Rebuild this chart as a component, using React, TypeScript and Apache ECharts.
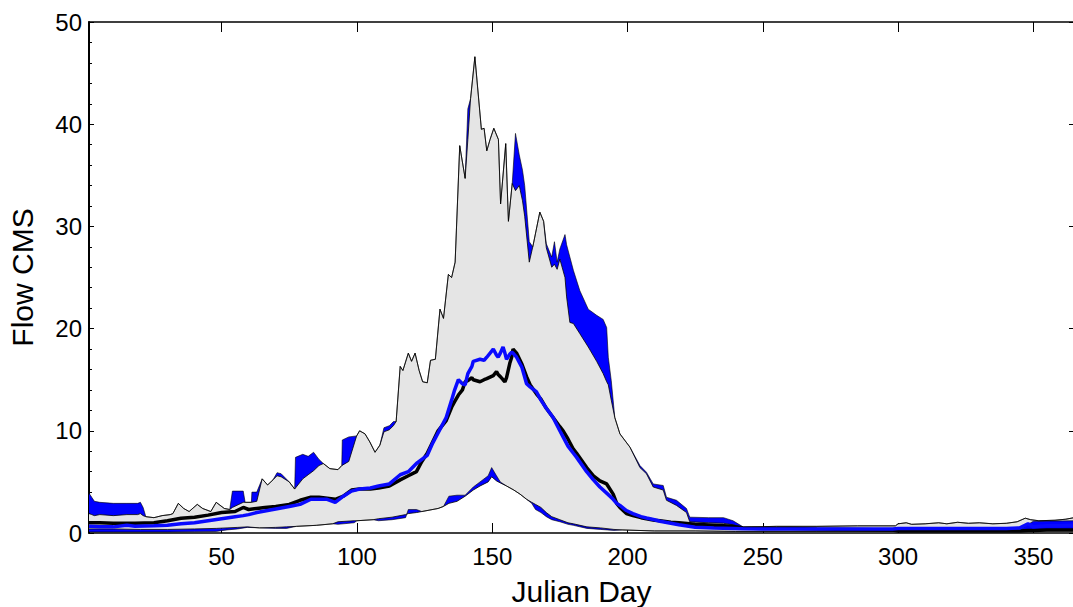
import React, { useEffect, useRef } from 'react';
import * as echarts from 'echarts';

// ---- Data ----
const xTickValues = [50, 100, 150, 200, 250, 300, 350];

// Upper envelopes (grey = series A maximum, blue = series B maximum)
const upperDays = [1, 2, 3, 5, 10, 15, 19, 20, 21, 22, 25, 28, 31, 32, 34, 36, 38, 41, 43, 46, 48, 51, 53, 54, 58, 58.7, 61, 61.2, 63, 65, 67, 69, 70.5, 72, 75, 77, 77.3, 80, 82, 84, 86, 87.6, 90, 93, 94.4, 94.6, 97, 99.9, 101, 103, 104.8, 106.7, 108.5, 110, 112, 113.5, 114.5, 116, 117, 119, 120.2, 121.5, 123, 124.3, 126, 127.2, 129, 130.7, 132, 133.8, 135, 136.3, 138, 140, 141, 142, 143.6, 146, 147, 148, 149.2, 150.6, 152.3, 153.1, 155, 156, 157.4, 158.6, 160, 161.2, 162, 163.7, 165, 167.6, 169, 170, 172, 173, 174, 175, 176.9, 177.5, 178.7, 180, 182.4, 185.5, 188.6, 191, 192.3, 192.9, 194, 195.3, 197.2, 200.9, 204.6, 207, 209.5, 213.2, 214.4, 218.1, 221.8, 223, 230, 235.5, 239, 242.7, 246, 255, 270, 285, 299, 300, 303, 305, 310, 315, 318, 322, 326, 330, 335, 340, 344, 347, 349, 352, 358, 362, 365];
const greyUpper = [1.9, 1.8, 1.7, 1.8, 1.7, 1.8, 1.8, 1.9, 1.7, 1.6, 1.5, 1.7, 1.8, 1.9, 2.9, 2.4, 2.1, 2.8, 2.4, 2.1, 3.0, 2.4, 2.3, 2.5, 3.0, 3.0, 3.0, 3.0, 3.1, 5.3, 4.7, 5.2, 5.6, 5.5, 5.0, 4.3, 4.4, 5.3, 5.7, 6.1, 6.6, 6.8, 6.3, 6.2, 6.6, 6.6, 7.0, 9.5, 10.0, 9.7, 8.9, 7.9, 8.6, 9.9, 10.1, 10.5, 10.9, 16.3, 15.9, 17.6, 16.8, 17.6, 15.9, 14.8, 14.7, 16.9, 17.0, 21.9, 21.0, 25.3, 25.0, 26.5, 37.9, 34.7, 38.5, 42.5, 46.6, 39.5, 39.6, 37.4, 38.5, 39.6, 38.5, 32.2, 38.1, 30.5, 34.2, 33.5, 34.0, 32.5, 31.0, 26.5, 28.0, 31.4, 30.5, 27.9, 26.0, 26.3, 25.8, 26.8, 25.0, 23.1, 20.6, 20.5, 19.5, 18.2, 16.8, 15.6, 14.8, 14.5, 13.0, 11.3, 9.7, 8.4, 6.4, 5.8, 4.5, 4.2, 3.2, 2.7, 2.0, 1.1, 1.0, 0.95, 0.8, 0.55, 0.6, 0.65, 0.65, 0.7, 0.7, 0.9, 1.0, 0.85, 0.9, 1.0, 0.9, 1.05, 0.95, 1.0, 0.9, 0.95, 1.1, 1.45, 1.3, 1.2, 1.25, 1.35, 1.5];
const blueUpper = [3.9, 3.5, 3.1, 3.0, 2.9, 2.9, 2.9, 3.0, 2.5, 1.6, 1.5, 1.7, 1.8, 1.9, 2.9, 2.4, 2.1, 2.8, 2.4, 2.1, 3.0, 2.4, 2.3, 4.1, 4.1, 3.0, 3.0, 4.0, 4.0, 5.3, 4.7, 5.2, 5.9, 5.8, 5.0, 4.3, 7.4, 7.7, 7.5, 7.9, 7.2, 6.8, 6.3, 6.2, 6.6, 9.1, 9.4, 9.5, 10.0, 9.7, 8.9, 7.9, 8.6, 10.3, 10.5, 10.9, 10.9, 16.3, 15.9, 17.6, 16.8, 17.6, 15.9, 14.8, 14.7, 16.9, 17.0, 21.9, 21.0, 25.3, 25.0, 26.5, 37.9, 34.7, 41.5, 42.5, 46.6, 39.5, 39.6, 37.4, 38.5, 39.6, 38.5, 32.2, 38.1, 30.5, 34.2, 39.1, 37.0, 35.5, 34.0, 28.5, 28.0, 31.4, 30.5, 28.3, 27.0, 28.5, 26.5, 27.8, 29.2, 28.2, 27.0, 25.7, 23.7, 21.9, 21.3, 20.9, 20.1, 17.2, 14.9, 11.3, 9.7, 8.4, 6.6, 5.95, 4.8, 4.65, 3.5, 3.2, 2.4, 1.55, 1.5, 1.5, 1.2, 0.6, 0.6, 0.65, 0.65, 0.7, 0.7, 0.9, 1.0, 0.85, 0.9, 1.0, 0.9, 1.05, 0.95, 1.0, 0.9, 0.95, 1.1, 1.45, 1.3, 1.2, 1.25, 1.35, 1.5];

// Lower envelopes (grey = series A minimum, blue = series B minimum)
const lowerDays = [1, 10, 20, 30, 40, 48, 52, 56, 59.5, 64, 70, 74, 77.7, 85, 91, 93, 99, 100, 106, 108, 113, 118, 119, 122, 124, 130, 132, 134, 137, 140, 143, 145.5, 148.5, 149.8, 151.6, 153, 155.3, 158, 160.3, 162.7, 164.6, 166, 168, 170, 172, 175, 178, 180, 185, 190, 195, 198, 210, 225, 240, 270, 299, 300, 320, 345, 349, 350, 365];
const greyLower = [0.4, 0.4, 0.35, 0.35, 0.4, 0.45, 0.5, 0.55, 0.6, 0.5, 0.55, 0.6, 0.65, 0.75, 0.9, 1.1, 1.2, 1.2, 1.3, 1.4, 1.55, 1.8, 1.9, 2.0, 2.1, 2.4, 2.6, 2.9, 3.1, 3.6, 4.2, 4.6, 5.0, 5.5, 5.1, 4.9, 4.6, 4.2, 3.8, 3.3, 3.0, 2.8, 2.5, 2.0, 1.6, 1.3, 1.0, 0.9, 0.6, 0.5, 0.35, 0.3, 0.2, 0.2, 0.15, 0.15, 0.15, 0.15, 0.15, 0.15, 0.2, 0.2, 0.2];
const blueLower = [0.1, 0.1, 0.1, 0.1, 0.12, 0.15, 0.3, 0.4, 0.55, 0.5, 0.45, 0.45, 0.65, 0.75, 0.9, 0.85, 1.0, 1.2, 1.3, 1.2, 1.3, 1.5, 2.3, 2.3, 2.1, 2.4, 2.6, 3.6, 3.7, 3.7, 4.5, 5.0, 5.6, 6.4, 5.6, 5.0, 4.6, 4.2, 3.8, 3.3, 2.9, 2.3, 2.0, 1.6, 1.3, 1.1, 0.85, 0.75, 0.45, 0.35, 0.25, 0.3, 0.2, 0.2, 0.15, 0.15, 0.15, 0.3, 0.3, 0.3, 1.0, 1.15, 1.2];

// Mean flows
const meanDays = [1, 5, 10, 15, 18, 25, 30, 35, 40, 45, 50, 55, 58, 60, 63, 66, 70, 75, 79, 83, 86, 89, 92, 95, 98, 101, 105, 108, 112, 116, 119, 122, 124, 126, 128, 130, 133, 135, 136, 137.5, 139, 140, 141, 142.5, 143, 145.5, 147, 148, 150.4, 151.6, 152.2, 153, 154, 154.7, 155.3, 156.5, 157.2, 157.7, 159, 161, 162.7, 164, 166.4, 168, 170, 172.5, 175, 176.2, 178, 180, 181.2, 184.9, 187.4, 189.8, 192.3, 194.7, 196, 197.2, 199.6, 202, 205, 207, 210, 212, 216, 219, 225, 232, 239, 242.6, 250, 260, 270, 285, 298, 300, 320, 330, 340, 345, 348, 350, 355, 360, 365];
const blackMean = [1.0, 1.0, 0.95, 0.95, 0.95, 1.0, 1.2, 1.45, 1.55, 1.75, 2.0, 2.1, 2.5, 2.3, 2.4, 2.5, 2.6, 2.8, 3.2, 3.5, 3.5, 3.4, 3.3, 3.6, 4.2, 4.3, 4.3, 4.4, 4.6, 5.2, 5.6, 6.0, 7.0, 7.8, 8.9, 10.0, 11.0, 12.3, 12.8, 13.5, 14.0, 14.8, 14.9, 15.2, 15.0, 14.8, 15.0, 15.1, 15.4, 15.8, 15.5, 15.3, 15.0, 14.8, 15.2, 16.6, 17.2, 18.0, 17.6, 16.5, 15.3, 14.5, 13.6, 13.1, 12.2, 11.3, 10.4, 10.0, 9.2, 8.2, 7.8, 6.4, 5.6, 5.1, 4.8, 3.8, 2.9, 2.5, 1.9, 1.7, 1.5, 1.4, 1.25, 1.2, 1.05, 1.0, 0.85, 0.75, 0.65, 0.5, 0.45, 0.45, 0.4, 0.35, 0.3, 0.2, 0.2, 0.2, 0.2, 0.2, 0.25, 0.25, 0.3, 0.3, 0.3];
const blueMean = [0.65, 0.6, 0.6, 0.75, 0.65, 0.7, 0.75, 0.9, 1.0, 1.2, 1.4, 1.6, 1.7, 1.8, 2.0, 2.15, 2.35, 2.6, 2.8, 3.3, 3.3, 3.3, 3.0, 3.6, 4.1, 4.3, 4.4, 4.6, 4.8, 5.7, 6.0, 6.8, 7.2, 7.6, 8.8, 9.8, 11.3, 13.0, 13.9, 15.0, 14.6, 14.5, 15.6, 16.3, 16.8, 17.0, 16.9, 17.2, 18.0, 17.4, 17.2, 17.6, 18.2, 17.6, 17.0, 17.5, 17.7, 17.6, 17.2, 16.2, 14.6, 14.3, 13.8, 13.0, 12.2, 11.3, 10.0, 9.4, 8.5, 7.8, 7.4, 6.0, 5.2, 4.5, 3.9, 3.3, 2.9, 2.7, 2.2, 1.9, 1.6, 1.47, 1.3, 1.15, 0.95, 0.8, 0.57, 0.5, 0.45, 0.42, 0.4, 0.4, 0.4, 0.4, 0.4, 0.45, 0.45, 0.45, 0.45, 0.5, 0.9, 0.6, 0.7, 0.7, 0.75];

// ---- Helpers ----
const FONT = '"Liberation Sans", Arial, Helvetica, sans-serif';
const pairs = (days: number[], vals: number[]) => days.map((d, i) => [d, vals[i]]);

function bandSeries(topDays: number[], top: number[], botDays: number[], bot: number[], fill: string, z: number) {
  return {
    type: 'custom',
    coordinateSystem: 'cartesian2d',
    silent: true,
    z,
    data: [[topDays[0], top[0]]],
    renderItem: (_params: any, api: any) => {
      const pts: number[][] = [];
      for (let i = 0; i < topDays.length; i++) pts.push(api.coord([topDays[i], top[i]]));
      for (let i = botDays.length - 1; i >= 0; i--) pts.push(api.coord([botDays[i], bot[i]]));
      return { type: 'polygon', shape: { points: pts }, style: { fill, stroke: 'none' } };
    },
  };
}

function lineSeries(days: number[], vals: number[], color: string, width: number, z: number) {
  return {
    type: 'line',
    data: pairs(days, vals),
    symbol: 'none',
    showSymbol: false,
    silent: true,
    z,
    lineStyle: { color, width },
  };
}

export default function App() {
  const ref = useRef<HTMLDivElement>(null);
  useEffect(() => {
    const chart = echarts.init(ref.current!, undefined, { renderer: 'svg' });
    const tickLine = { color: '#000', width: 1 };
    const option: any = {
      animation: false,
      backgroundColor: '#fff',
      grid: { left: 89, right: -1, top: 22, bottom: 74, containLabel: false, outerBoundsMode: 'none' },
      xAxis: [
        {
          type: 'value', position: 'bottom', min: 1, max: 365,
          name: 'Julian Day', nameLocation: 'middle', nameGap: 43,
          nameTextStyle: { fontSize: 30, color: '#000', fontFamily: FONT },
          axisLine: { show: true, onZero: false, lineStyle: { color: '#000', width: 1.5 } },
          axisTick: { show: true, inside: true, length: 10, lineStyle: tickLine, customValues: xTickValues },
          axisLabel: { show: true, customValues: xTickValues, fontSize: 24, margin: 11, color: '#000', fontFamily: FONT },
          splitLine: { show: false },
        },
        {
          type: 'value', position: 'top', min: 1, max: 365,
          axisLine: { show: true, onZero: false, lineStyle: { color: '#000', width: 1.5 } },
          axisTick: { show: true, inside: true, length: 10, lineStyle: tickLine, customValues: xTickValues },
          axisLabel: { show: false },
          splitLine: { show: false },
        },
      ],
      yAxis: [
        {
          type: 'value', position: 'left', min: 0, max: 50, interval: 10,
          name: 'Flow CMS', nameLocation: 'middle', nameGap: 52,
          nameTextStyle: { fontSize: 30, color: '#000', fontFamily: FONT },
          axisLine: { show: true, onZero: false, lineStyle: { color: '#000', width: 2 } },
          axisTick: { show: true, inside: true, length: 5, lineStyle: tickLine },
          minorTick: { show: true, splitNumber: 5, length: 3, lineStyle: tickLine },
          axisLabel: { show: true, fontSize: 24, margin: 7, color: '#000', fontFamily: FONT },
          splitLine: { show: false },
        },
        {
          type: 'value', position: 'right', min: 0, max: 50, interval: 10,
          axisLine: { show: true, onZero: false, lineStyle: { color: '#000', width: 1.5 } },
          axisTick: { show: true, inside: true, length: 5, lineStyle: tickLine },
          axisLabel: { show: false },
          splitLine: { show: false },
        },
      ],
      series: [
        bandSeries(upperDays, greyUpper, lowerDays, greyLower, '#e5e5e5', 1),
        bandSeries(upperDays, blueUpper, upperDays, greyUpper, '#0000ff', 2),
        bandSeries(lowerDays, blueLower, lowerDays, greyLower, '#0000ff', 2),
        lineSeries(upperDays, greyUpper, '#000', 0.8, 3),
        lineSeries(lowerDays, greyLower, '#000', 0.8, 3),
        lineSeries(upperDays, blueUpper, '#000', 0.6, 3),
        lineSeries(lowerDays, blueLower, '#000', 0.6, 3),
        lineSeries(meanDays, blackMean, '#000', 3.5, 4),
        lineSeries(meanDays, blueMean, '#0a0aff', 3.5, 5),
      ],
    };
    chart.setOption(option);
    return () => chart.dispose();
  }, []);
  return (
    <div
      ref={ref}
      style={{ position: 'fixed', left: 0, top: 0, width: 1073, height: 607, background: '#fff' }}
    />
  );
}
